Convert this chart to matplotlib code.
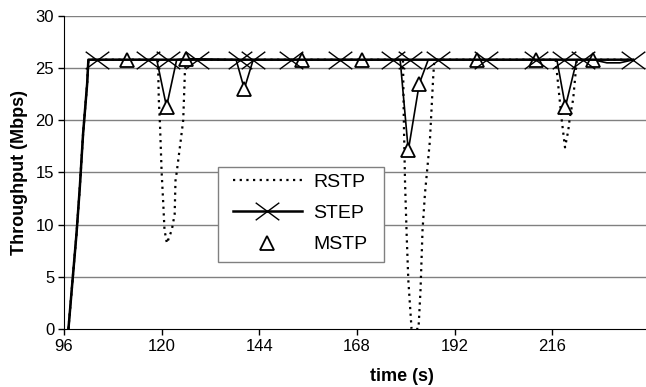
import matplotlib
matplotlib.use("Agg")
import matplotlib.pyplot as plt
from matplotlib.lines import Line2D
from matplotlib.patches import Rectangle
from matplotlib.path import Path

plt.rcParams['font.family'] = ['Liberation Sans', 'DejaVu Sans']

# ramp shared by all three protocols
ramp_t = [97.1, 97.9, 99.1, 99.9, 100.7, 101.7, 102.0]
ramp_v = [0.0, 3.7, 9.2, 13.6, 18.7, 23.5, 25.8]

# RSTP (dotted)
rstp_t = ramp_t + [119.1, 119.3, 119.6, 120.0, 120.4, 120.7, 121.3, 122.5, 123.2, 123.4,
                   123.7, 124.7, 125.3, 125.7, 126.0,
                   179.3, 179.5, 179.8, 180.2, 180.6, 181.4, 183.1, 183.6, 184.1, 184.7,
                   185.9, 186.7, 187.0,
                   216.8, 218.3, 219.1, 219.9, 220.3, 221.1, 222.0, 236.0]
rstp_v = ramp_v + [25.8, 22.0, 19.5, 15.0, 12.0, 9.5, 8.2, 9.5, 11.0, 14.2,
                   15.0, 18.1, 20.0, 24.5, 25.8,
                   25.8, 20.0, 14.0, 9.0, 4.7, 0.0, 0.0, 3.7, 9.5, 13.0,
                   18.0, 24.0, 25.8,
                   25.8, 20.0, 17.4, 19.0, 20.3, 22.0, 25.8, 25.8]

# STEP (solid with x markers)
step_marks = [104.0, 116.6, 121.6, 128.6, 139.2, 142.5, 151.9, 163.9, 176.9,
              181.0, 188.0, 199.8, 211.9, 218.9, 223.6, 235.8]
step_t = ramp_t + step_marks
step_v = ramp_v + [25.8] * len(step_marks)

# MSTP (thin solid with triangle markers)
mstp_t = ramp_t + [111.4, 118.8, 121.2, 123.7, 126.1, 138.3, 140.3, 142.5, 154.4,
                   169.2, 178.6, 180.6, 183.3, 185.5, 197.6, 211.9, 217.1, 219.2,
                   222.0, 225.9, 229.4, 232.6, 236.0]
mstp_v = ramp_v + [25.8, 25.8, 21.3, 25.8, 25.9, 25.8, 23.0, 25.8, 25.8,
                   25.8, 25.8, 17.1, 23.5, 25.8, 25.8, 25.8, 25.8, 21.3,
                   25.8, 25.8, 25.5, 25.5, 25.8]
mstp_marks = [111.4, 121.2, 126.1, 140.3, 154.4, 169.2, 180.6, 183.3, 197.6,
              211.9, 219.2, 225.9]

x_ticks = [96, 120, 144, 168, 192, 216]
y_ticks = [0, 5, 10, 15, 20, 25, 30]
labels = ['RSTP', 'STEP', 'MSTP']

# wide "x" marker like the original
xmark = Path([(-1.35, -1), (1.35, 1), (-1.35, 1), (1.35, -1)],
             [Path.MOVETO, Path.LINETO, Path.MOVETO, Path.LINETO])

fig = plt.figure(figsize=(6.46, 3.87), dpi=100)
ax = fig.add_axes([0.099, 0.150, 0.901, 0.809])

for y in y_ticks[1:]:
    ax.axhline(y, color='#808080', lw=1.0, zorder=1)

ax.plot(rstp_t, rstp_v, color='black', lw=1.6, ls=(0, (1, 2)), zorder=3)
ax.plot(mstp_t, mstp_v, color='black', lw=1.2, zorder=3,
        marker='^', ms=9.5, mfc='white', mec='black', mew=1.3,
        markevery=[mstp_t.index(t) for t in mstp_marks])
ax.plot(step_t, step_v, color='black', lw=1.8, zorder=4,
        marker=xmark, ms=17, mec='black', mew=1.0, mfc='none',
        markevery=[step_t.index(t) for t in step_marks])

ax.set_xlim(96, 239)
ax.set_ylim(0, 30)
ax.set_xticks(x_ticks)
ax.set_yticks(y_ticks)
ax.tick_params(axis='both', labelsize=12, length=4, width=1, colors='black', pad=3)
for s in ['top', 'right']:
    ax.spines[s].set_visible(False)

ax.set_ylabel('Throughput (Mbps)', fontsize=13, fontweight='bold')
ax.set_xlabel('time (s)', fontsize=13, fontweight='bold')
ax.yaxis.set_label_coords(-0.061, 0.5)
ax.xaxis.set_label_coords(0.58, -0.125)

# legend frame drawn separately so it can be placed exactly
ax.add_patch(Rectangle((0.2646, 0.214), 0.2852, 0.302, transform=ax.transAxes,
                       facecolor='white', edgecolor='#808080', lw=1.0, zorder=5))
handles = [
    Line2D([], [], color='black', lw=1.6, ls=(0, (1, 2))),
    Line2D([], [], color='black', lw=1.8, marker=xmark, ms=17, mew=1.0),
    Line2D([], [], ls='none', marker='^', ms=9.5, mfc='white', mec='black', mew=1.3),
]
leg = ax.legend(handles, labels, loc='upper left',
                bbox_to_anchor=(0.2904, 0.497), fontsize=14, frameon=False,
                handlelength=3.55, labelspacing=0.70, handletextpad=0.57,
                borderpad=0, borderaxespad=0)
leg.set_zorder(6)

fig.savefig('out.png', dpi=100)
